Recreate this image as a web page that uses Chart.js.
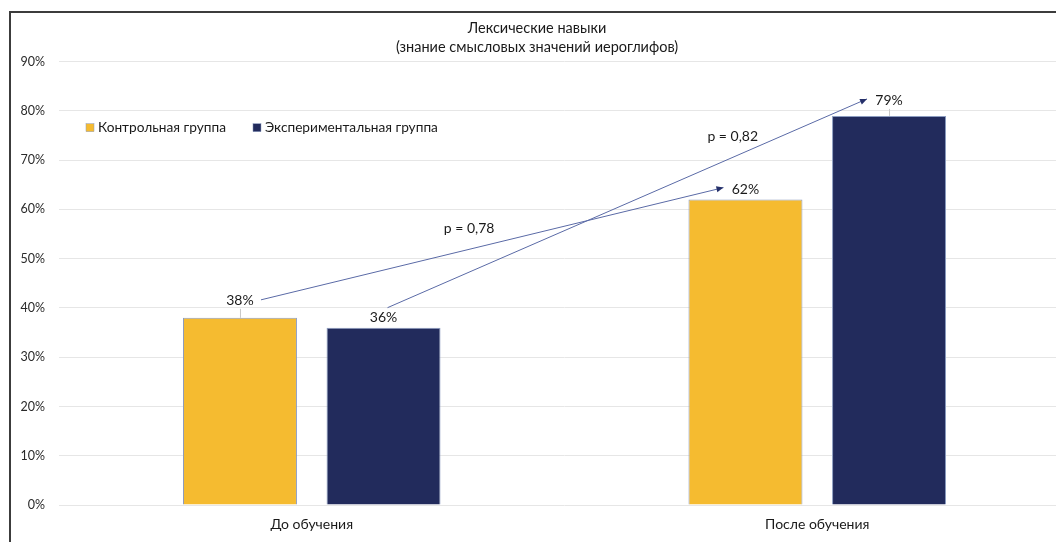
<!DOCTYPE html>
<html>
<head>
<meta charset="utf-8">
<script src="https://cdn.jsdelivr.net/npm/chart.js@4"></script>
<style>
    html, body { margin: 0; padding: 0; background: #fff; overflow: hidden; }
    #frame {
        position: absolute; left: 9px; top: 11px;
        width: 1070px; height: 529px;
        border-left: 2px solid #3c3c3c; border-top: 2px solid #3c3c3c;
    }
    #grafico { display: block; }
</style>
</head>
<body>
<div id="frame"><canvas id="grafico" width="1070" height="529"></canvas></div>
<script>
const categorias = ['До обучения', 'После обучения'];
const controle = [38, 62];
const experimental = [36, 79];
const nomesSeries = ['Контрольная группа', 'Экспериментальная группа'];
const valoresP = ['p = 0,78', 'p = 0,82'];
const titulo = ['Лексические навыки', '(знание смысловых значений иероглифов)'];

const cores = ['#F5BB30', '#222B5C'];
const fonte = 'Lato, "Noto Sans", sans-serif';

// distance of each value label above its bar: [serie][categoria]
const afastamento = [[17, 10], [10, 15]];
// which labels get a small leader line
const comLinha = [[true, false], [false, true]];

function seta(ctx, x1, y1, x2, y2) {
    ctx.save();
    ctx.strokeStyle = '#5a6aa6';
    ctx.fillStyle = '#25306a';
    ctx.lineWidth = 1;
    ctx.beginPath();
    ctx.moveTo(x1, y1);
    ctx.lineTo(x2, y2);
    ctx.stroke();
    const a = Math.atan2(y2 - y1, x2 - x1);
    ctx.beginPath();
    ctx.moveTo(x2, y2);
    ctx.lineTo(x2 - 7 * Math.cos(a) + 3 * Math.sin(a), y2 - 7 * Math.sin(a) - 3 * Math.cos(a));
    ctx.lineTo(x2 - 7 * Math.cos(a) - 3 * Math.sin(a), y2 - 7 * Math.sin(a) + 3 * Math.cos(a));
    ctx.closePath();
    ctx.fill();
    ctx.restore();
}

const extras = {
    id: 'extras',
    afterDatasetsDraw(chart) {
        const ctx = chart.ctx;
        const area = chart.chartArea;
        const pos = [[], []];

        // title
        ctx.save();
        ctx.font = '14.5px ' + fonte;
        ctx.fillStyle = '#1a1a1a';
        ctx.textAlign = 'center';
        ctx.textBaseline = 'middle';
        ctx.fillText(titulo[0], 526, 15);
        ctx.fillText(titulo[1], 526, 34);
        ctx.restore();

        ctx.save();
        ctx.font = '14px ' + fonte;
        ctx.fillStyle = '#1a1a1a';
        ctx.textAlign = 'center';
        ctx.textBaseline = 'middle';
        chart.data.datasets.forEach((ds, i) => {
            chart.getDatasetMeta(i).data.forEach((bar, j) => {
                const y = bar.y - afastamento[i][j];
                ctx.fillText(ds.data[j] + '%', bar.x, y);
                pos[i][j] = { x: bar.x, y: y };
                if (comLinha[i][j]) {
                    ctx.strokeStyle = '#c8c8c8';
                    ctx.lineWidth = 1;
                    ctx.beginPath();
                    ctx.moveTo(bar.x + 0.5, y + 8);
                    ctx.lineTo(bar.x + 0.5, bar.y);
                    ctx.stroke();
                }
            });
        });
        ctx.restore();

        // arrows between before/after labels
        const rotas = [
            [pos[0][0].x + 21, pos[0][0].y - 1, pos[0][1].x - 22, pos[0][1].y - 2, 0.45],
            [pos[1][0].x + 4, pos[1][0].y - 10, pos[1][1].x - 22, pos[1][1].y - 2, 0.72]
        ];
        rotas.forEach((r, k) => {
            seta(ctx, r[0], r[1], r[2], r[3]);
            const tx = r[0] + (r[2] - r[0]) * r[4];
            const ty = r[1] + (r[3] - r[1]) * r[4] - 21;
            ctx.save();
            ctx.font = '14px ' + fonte;
            ctx.fillStyle = '#1a1a1a';
            ctx.textAlign = 'center';
            ctx.textBaseline = 'middle';
            ctx.fillText(valoresP[k], tx, ty);
            ctx.restore();
        });

        // legend inside the plot
        ctx.save();
        ctx.font = '13.7px ' + fonte;
        ctx.textBaseline = 'middle';
        let lx = area.left + 27;
        const ly = area.top + 66;
        nomesSeries.forEach((nome, i) => {
            ctx.fillStyle = cores[i];
            ctx.fillRect(lx, ly - 4, 8, 8);
            ctx.strokeStyle = '#8c9cc0';
            ctx.lineWidth = 0.5;
            ctx.strokeRect(lx, ly - 4, 8, 8);
            ctx.fillStyle = '#1a1a1a';
            ctx.fillText(nome, lx + 12, ly);
            lx += 12 + ctx.measureText(nome).width + 27;
        });
        ctx.restore();
    }
};

new Chart(document.getElementById('grafico'), {
    type: 'bar',
    data: {
        labels: categorias,
        datasets: [{
            label: nomesSeries[0],
            data: controle,
            backgroundColor: cores[0],
            borderColor: '#8c9cc0',
            borderWidth: 1,
            categoryPercentage: 0.568,
            barPercentage: 0.794
        }, {
            label: nomesSeries[1],
            data: experimental,
            backgroundColor: cores[1],
            borderColor: '#8c9cc0',
            borderWidth: 1,
            categoryPercentage: 0.568,
            barPercentage: 0.794
        }]
    },
    options: {
        responsive: false,
        animation: false,
        layout: { padding: { left: 0, right: 11, top: 48.7, bottom: 0 } },
        plugins: {
            legend: { display: false },
            tooltip: { enabled: false },
            title: { display: false }
        },
        scales: {
            x: {
                grid: { display: false },
                border: { display: false },
                ticks: { color: '#1a1a1a', font: { family: fonte, size: 14 }, padding: 3 },
                afterFit(s) { s.height = 37; }
            },
            y: {
                min: 0,
                max: 90,
                ticks: {
                    stepSize: 10,
                    color: '#2a2a2a',
                    font: { family: fonte, size: 12.5 },
                    padding: 14,
                    callback: v => v + '%'
                },
                grid: { color: '#e6e6e6', drawTicks: false },
                border: { display: false },
                afterFit(s) { s.width = 48; }
            }
        }
    },
    plugins: [extras]
});
</script>
</body>
</html>
